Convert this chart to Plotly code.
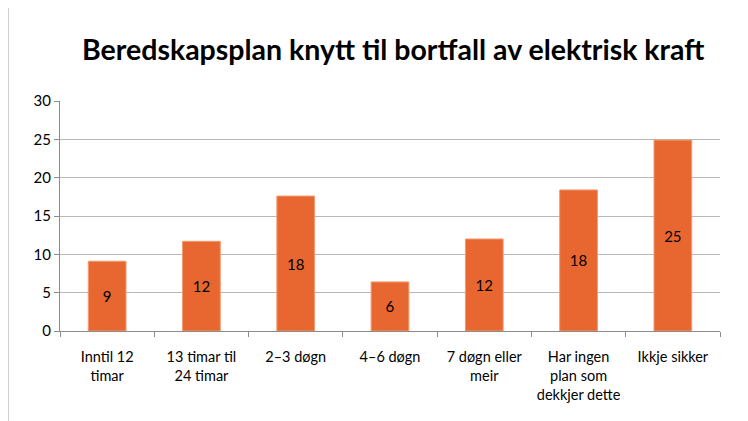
import plotly.graph_objects as go

# data
categories = [
  "Inntil 12<br>timar",
  "13 timar til<br>24 timar",
  "2–3 døgn",
  "4–6 døgn",
  "7 døgn eller<br>meir",
  "Har ingen<br>plan som<br>dekkjer dette",
  "Ikkje sikker",
]
values = [9.1, 11.7, 17.6, 6.4, 12.0, 18.4, 24.9]
labels = ["9", "12", "18", "6", "12", "18", "25"]
y_ticks = [0, 5, 10, 15, 20, 25, 30]

FONT = "Lato, Open Sans, sans-serif"

fig = go.Figure(
  data=[go.Bar(
    x=categories, y=values,
    text=labels, textposition="inside", insidetextanchor="middle",
    textfont=dict(color="black", size=15, family=FONT),
    marker=dict(color="#E8662F", line=dict(color="#F29A70", width=1)),
    hoverinfo="skip",
  )],
  layout=go.Layout(
    width=748, height=421,
    margin=dict(l=52, r=36, t=93, b=98, autoexpand=False),
    paper_bgcolor="white", plot_bgcolor="white",
    bargap=0.6,
    showlegend=False,
    title=dict(
      text="<b>Beredskapsplan knytt til bortfall av elektrisk kraft</b>",
      font=dict(size=28.5, color="black", family=FONT),
      x=0.515, xanchor="center", y=0.9, yanchor="middle",
    ),
    xaxis=dict(
      showline=True, linecolor="#8C8C8C", linewidth=1,
      ticks="outside", tickson="boundaries", ticklen=5, tickcolor="#8C8C8C",
      tickfont=dict(size=14.5, color="black", family=FONT),
      tickangle=0, automargin=False,
      ticklabelstandoff=13,
      showgrid=False,
    ),
    yaxis=dict(
      range=[0, 30], tickvals=y_ticks,
      showline=True, linecolor="#8C8C8C", linewidth=1,
      ticks="outside", ticklen=5, tickcolor="#8C8C8C",
      showgrid=True, gridcolor="#B8B8B8", gridwidth=1,
      zeroline=False, automargin=False,
      tickfont=dict(size=15, color="black", family=FONT),
    ),
  ),
)

# thin border on the left edge of the picture
fig.add_shape(type="line", xref="paper", yref="paper",
              x0=-52 / 660, x1=-52 / 660, y0=-0.5, y1=1.5,
              line=dict(color="#A0A0A0", width=1))

fig.write_html("out.html")
